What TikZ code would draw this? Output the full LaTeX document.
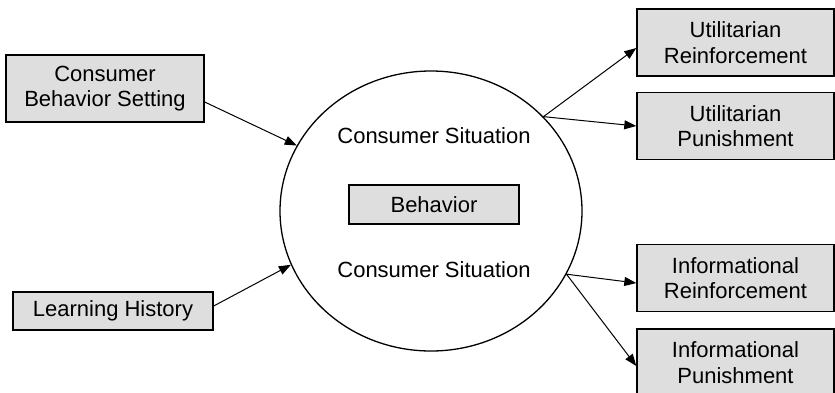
\documentclass[tikz,border=0pt]{standalone}
\usepackage{fontspec}
\setmainfont{Liberation Sans}
\usetikzlibrary{arrows.meta,shapes.geometric}
\tikzset{
  box/.style={draw=black, line width=1.4pt, fill=black!13, minimum width=198pt,
    minimum height=67pt, inner sep=0pt, align=center,
    font=\fontsize{22}{25.7}\selectfont},
  label/.style={inner sep=0pt, anchor=base, font=\fontsize{22}{25.7}\selectfont},
  conn/.style={line width=1pt, -{Triangle[length=12pt,width=9pt]}},
}
\begin{document}
\begin{tikzpicture}[x=1pt,y=-1pt]
\useasboundingbox (0,0) rectangle (835,392);

% situation ellipse with its two labels and the behaviour box
\node[ellipse, draw, line width=1.3pt, minimum width=302pt, minimum height=280pt,
      inner sep=0pt] (sit) at (431,211) {};
\node[label] (cs1) at (434,143) {Consumer Situation};
\node[label] (cs2) at (434,277) {Consumer Situation};
\node[box, minimum width=170pt, minimum height=39pt] (beh) at (434,204.5) {Behavior};

% inputs
\node[box] (cbs) at (105,88.5) {Consumer\\Behavior Setting};
\node[box, minimum width=200pt, minimum height=38pt] (lh) at (113,311) {Learning History};

% consequences
\node[box, minimum width=197pt] (ur) at (735.5,42.5) {Utilitarian\\Reinforcement};
\node[box, minimum width=197pt] (up) at (735.5,126) {Utilitarian\\Punishment};
\node[box, minimum width=197pt] (ir) at (735.5,278) {Informational\\Reinforcement};
\node[box, minimum width=197pt] (ip) at (735.5,362.5) {Informational\\Punishment};

% connectors
\coordinate (o1) at (sit.40);
\coordinate (o2) at (sit.-25);
\draw[conn] ([yshift=-13.5pt]cbs.east) -- (sit.154.5);
\draw[conn] ([yshift=5pt]lh.east) -- (sit.201.6);
\draw[conn] (o1) -- ([yshift=-5.5pt]ur.west);
\draw[conn] (o1) -- (up.west);
\draw[conn] (o2) -- ([yshift=-5pt]ir.west);
\draw[conn] (o2) -- ([yshift=-3.5pt]ip.west);
\end{tikzpicture}
\end{document}
